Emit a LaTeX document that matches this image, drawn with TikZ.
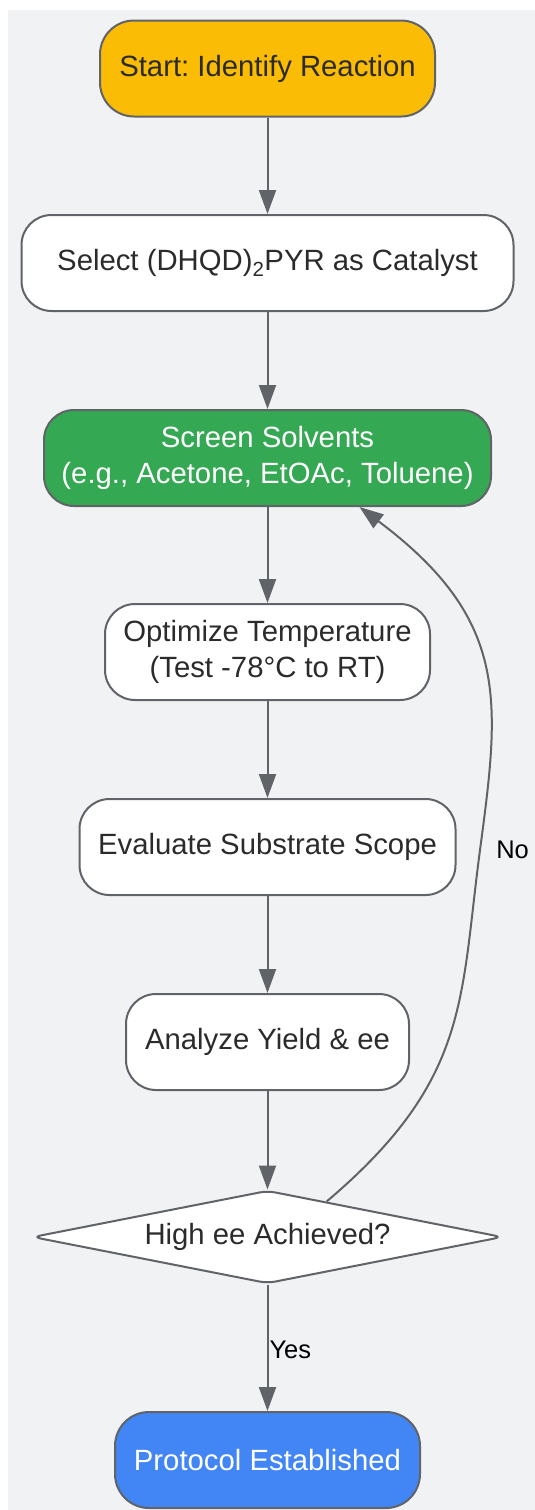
\documentclass[tikz,border=0pt]{standalone}
\usepackage{fontspec}
\setmainfont{Liberation Sans}
\usetikzlibrary{shapes.geometric,arrows.meta}
\definecolor{bggray}{HTML}{F1F2F4}
\definecolor{linegray}{HTML}{606368}
\definecolor{txtgray}{HTML}{2B2B2B}
\definecolor{startyellow}{HTML}{FBBC05}
\definecolor{solvgreen}{HTML}{34A853}
\definecolor{endblue}{HTML}{4285F4}
\frenchspacing

\begin{document}
\begin{tikzpicture}[x=1pt,y=1pt,
  stepbox/.style={draw=linegray, line width=2pt, rounded corners=30pt, fill=white,
    minimum height=96pt, align=center, text=txtgray, font=\fontsize{29.3}{36}\selectfont},
  termbox/.style={stepbox, rounded corners=34pt},
  decbox/.style={draw=linegray, line width=2pt, shape=diamond, aspect=5.12, fill=white, rounded corners=8pt,
    minimum width=470pt, minimum height=93pt, inner sep=0pt, text=txtgray, font=\fontsize{29.3}{36}\selectfont},
  flow/.style={draw=linegray, line width=2pt, -{Triangle[length=24pt,width=17pt]}},
  edgetext/.style={text=black, font=\fontsize{25.5}{30}\selectfont}]
\useasboundingbox (0,0) rectangle (535,-1510);
\fill[bggray] (8,-10) rectangle (535,-1510);

\node[termbox, fill=startyellow, minimum width=335pt] (start) at (267.5,-68.5) {Start: Identify Reaction};
\node[stepbox, minimum width=492pt] (cat) at (267.5,-263) {Select (DHQD)\textsubscript{2}PYR as Catalyst};
\node[stepbox, fill=solvgreen, text=white, minimum width=447pt] (solv) at (267.5,-458) {Screen Solvents\\(e.g., Acetone, EtOAc, Toluene)};
\node[stepbox, minimum width=325pt] (temp) at (267.5,-652) {Optimize Temperature\\(Test -78°C to RT)};
\node[stepbox, minimum width=376pt] (scope) at (267.5,-847) {Evaluate Substrate Scope};
\node[stepbox, minimum width=283pt] (yield) at (267.5,-1042) {Analyze Yield \& ee};
\node[decbox] (check) at (267.5,-1237) {High ee Achieved?};
\node[termbox, fill=endblue, text=white, minimum width=305pt] (done) at (267.5,-1460) {Protocol Established};

\draw[flow] (start) -- (cat);
\draw[flow] (cat) -- (solv);
\draw[flow] (solv) -- (temp);
\draw[flow] (temp) -- (scope);
\draw[flow] (scope) -- (yield);
\draw[flow] (yield) -- (check);
\draw[flow] (check) -- node[edgetext, anchor=west, inner sep=1pt, yshift=-2pt] {Yes} (done);
\draw[flow] (check.31) .. controls (470,-1080) and (460,-1000) .. (480,-850)
  node[edgetext, anchor=west, xshift=12pt] {No}
  .. controls (500,-700) and (510,-620) .. ([xshift=92pt]solv.south);
\end{tikzpicture}
\end{document}
